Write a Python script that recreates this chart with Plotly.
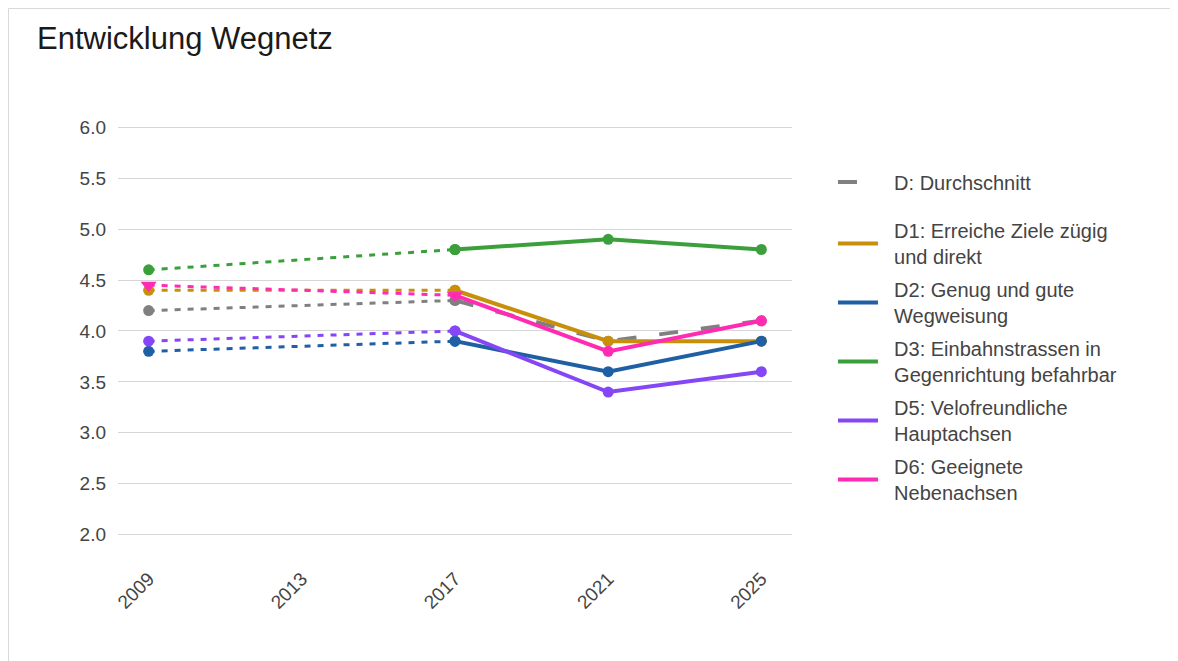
import plotly.graph_objects as go

years_early = [2009, 2017]
years_late = [2017, 2021, 2025]
x_ticks = [2009, 2013, 2017, 2021, 2025]
y_ticks = [2.0, 2.5, 3.0, 3.5, 4.0, 4.5, 5.0, 5.5, 6.0]

names = [
    "D: Durchschnitt",
    "D1: Erreiche Ziele zügig<br>und direkt",
    "D2: Genug und gute<br>Wegweisung",
    "D3: Einbahnstrassen in<br>Gegenrichtung befahrbar",
    "D5: Velofreundliche<br>Hauptachsen",
    "D6: Geeignete<br>Nebenachsen",
]
colors = ["#808080", "#c8900a", "#1f5fa3", "#3ba03b", "#8547f5", "#ff2bb2"]

d_avg = [4.2, 4.3, 3.9, 4.1]
d1 = [4.4, 4.4, 3.9, 3.9]
d2 = [3.8, 3.9, 3.6, 3.9]
d3 = [4.6, 4.8, 4.9, 4.8]
d5 = [3.9, 4.0, 3.4, 3.6]
d6 = [4.45, 4.35, 3.8, 4.1]

series = [d_avg, d1, d2, d3, d5, d6]


def pad_label(label):
    return "<br>".join("&nbsp;&nbsp;" + part for part in label.split("<br>"))


fig = go.Figure()

# dotted early segments (2009-2017)
for i, vals in enumerate(series):
    sym = "triangle-down" if i == 5 else "circle"
    fig.add_trace(go.Scatter(
        x=years_early, y=vals[:2], mode="lines+markers",
        line=dict(color=colors[i], width=3, dash="6px,7px"),
        marker=dict(color=colors[i], size=14 if i == 5 else 11, symbol=sym,
                    opacity=1, line=dict(width=0)),
        showlegend=False, hoverinfo="skip",
    ))

# solid later segments (2017-2025)
for i, vals in enumerate(series):
    fig.add_trace(go.Scatter(
        x=years_late, y=vals[1:], mode="lines", name=pad_label(names[i]),
        line=dict(color=colors[i], width=4, dash="19px,23px" if i == 0 else "solid"),
        legend="legend" if i == 0 else "legend2",
        legendgroup="g%d" % i,
    ))
    syms = ["triangle-down", "circle", "circle"] if i == 5 else ["circle"] * 3
    sizes = [14, 11, 11] if i == 5 else [11] * 3
    fig.add_trace(go.Scatter(
        x=years_late, y=vals[1:], mode="markers",
        marker=dict(color=colors[i], size=sizes, symbol=syms,
                    opacity=1, line=dict(width=0)),
        showlegend=False, hoverinfo="skip",
    ))

fig.update_layout(
    width=1178, height=661,
    margin=dict(l=110, r=394, t=102, b=114),
    paper_bgcolor="white", plot_bgcolor="white",
    font=dict(family="Liberation Sans, Arial, sans-serif", color="#444444", size=19),
    title=dict(text="Entwicklung Wegnetz", x=29/1178, xanchor="left",
               y=1-30/661, yanchor="middle", xref="container", yref="container",
               font=dict(size=31, color="#1a1a1a")),
    xaxis=dict(range=[2008.2, 2025.8], tickvals=x_ticks,
               tickangle=-45, showgrid=False, zeroline=False, showline=False,
               ticklabelstandoff=8,
               tickfont=dict(size=19, color="#444444")),
    yaxis=dict(range=[1.8, 6.17], tickvals=y_ticks,
               tickformat=".1f", showgrid=True, gridcolor="#d6d6d6", gridwidth=1,
               zeroline=False, showline=False, ticklabelstandoff=11,
               tickfont=dict(size=19, color="#444444")),
    legend=dict(x=1.0608, y=(547-174)/445, xanchor="left", yanchor="middle",
                font=dict(size=20, color="#444444"), itemwidth=40,
                traceorder="normal"),
    legend2=dict(x=1.0608, y=(547-203)/445, xanchor="left", yanchor="top",
                 font=dict(size=20, color="#444444"), itemwidth=40,
                 tracegroupgap=4, traceorder="grouped"),
    shapes=[dict(type="rect", xref="paper", yref="paper",
                 x0=(0.5-110)/674, x1=(1168-110)/674, y0=-0.344, y1=(547-0.5)/445,
                 line=dict(color="#d9d9d9", width=1), fillcolor="rgba(0,0,0,0)", layer="below")],
    showlegend=True,
)

fig.write_html("out.html")
